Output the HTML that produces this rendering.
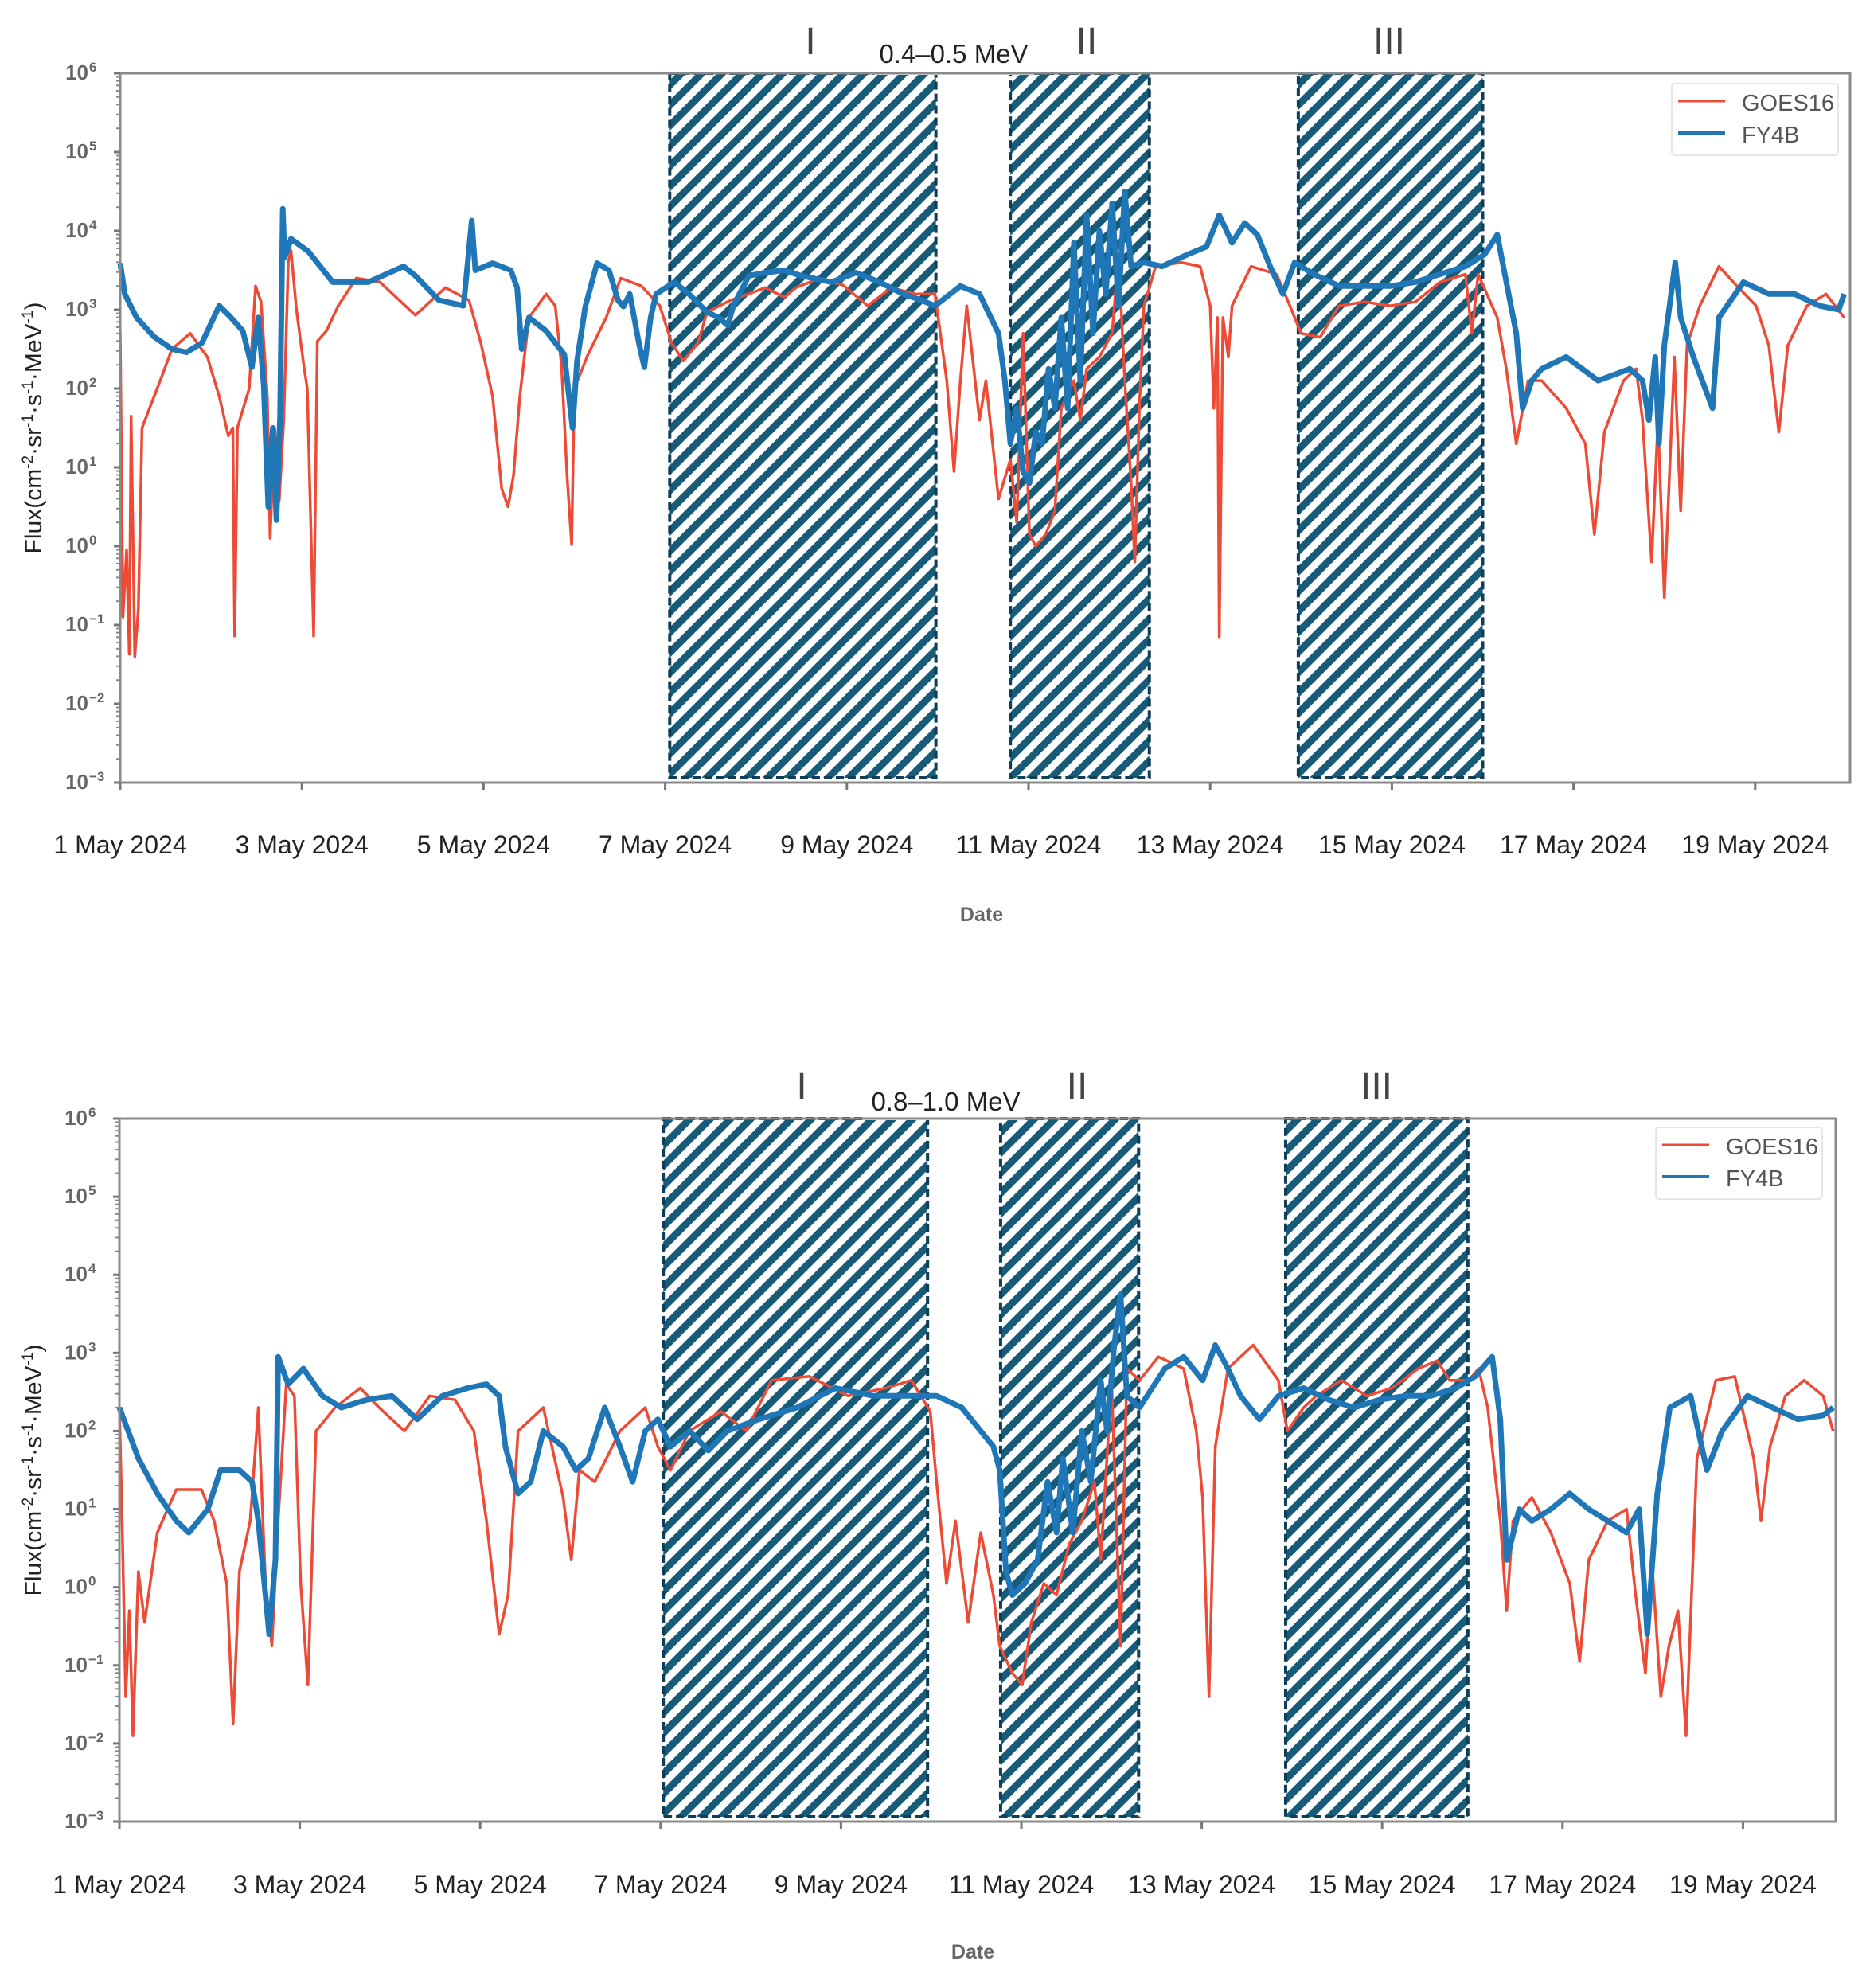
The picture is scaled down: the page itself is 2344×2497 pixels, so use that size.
<!DOCTYPE html>
<html><head><meta charset="utf-8"><style>
html,body{margin:0;padding:0;background:#fff;}
svg{display:block;font-family:"Liberation Sans",sans-serif;}
</style></head><body>
<svg id="chart" width="2344" height="2497" viewBox="0 0 2344 2497" xmlns="http://www.w3.org/2000/svg">
<defs>
<pattern id="hatch" patternUnits="userSpaceOnUse" width="18" height="18" patternTransform="rotate(45)">
<rect x="0" y="0" width="9" height="18" fill="#175b78"/>
</pattern>
</defs>
</svg>
<script>
// ---- data (days since 1 May 2024 00:00, log10 flux) ----
const xTickLabels = ["1 May 2024","3 May 2024","5 May 2024","7 May 2024","9 May 2024","11 May 2024","13 May 2024","15 May 2024","17 May 2024","19 May 2024"];
const xTickDays = [0,2,4,6,8,10,12,14,16,18];
const yTickExps = [6,5,4,3,2,1,0,-1,-2,-3];
const eventLabels = ["I","II","III"];
const topEventStart = [6.05, 9.8, 12.97];
const topEventEnd = [8.98, 11.33, 15.0];
const botEventStart = [6.03, 9.77, 12.93];
const botEventEnd = [8.96, 11.3, 14.95];

const topGoesDays = [0,0.03,0.07,0.1,0.12,0.16,0.2,0.24,0.44,0.57,0.77,0.96,1.09,1.19,1.24,1.26,1.29,1.42,1.49,1.55,1.62,1.65,1.7,1.75,1.8,1.85,1.88,1.94,2.02,2.06,2.13,2.17,2.27,2.4,2.6,2.86,3.25,3.58,3.84,3.97,4.1,4.2,4.27,4.33,4.4,4.5,4.69,4.79,4.86,4.92,4.97,5.0,5.15,5.35,5.51,5.74,5.94,6.07,6.2,6.36,6.46,6.72,6.92,7.1,7.31,7.44,7.7,7.96,8.23,8.49,8.75,8.97,9.1,9.18,9.25,9.32,9.46,9.53,9.67,9.8,9.87,9.94,10.01,10.08,10.19,10.29,10.36,10.5,10.57,10.64,10.78,10.92,10.99,11.06,11.13,11.17,11.22,11.27,11.4,11.68,11.89,12.0,12.04,12.08,12.1,12.14,12.2,12.24,12.45,12.73,12.86,13.0,13.21,13.42,13.7,13.98,14.26,14.53,14.81,14.88,14.95,15.16,15.26,15.37,15.5,15.65,15.92,16.13,16.23,16.34,16.55,16.69,16.76,16.86,16.93,17.0,17.11,17.18,17.25,17.39,17.6,17.8,18.01,18.15,18.26,18.36,18.57,18.78,18.98];
const topGoesLog = [2.73,-0.9,-0.05,-1.37,1.65,-1.4,-0.8,1.5,2.1,2.5,2.7,2.4,1.9,1.4,1.5,-1.14,1.5,2.0,3.3,3.1,1.9,0.1,1.5,0.57,1.6,3.6,3.75,3.0,2.3,2.0,-1.14,2.6,2.73,3.05,3.4,3.35,2.93,3.28,3.12,2.58,1.9,0.73,0.5,0.9,1.9,2.9,3.2,3.05,2.27,0.88,0.02,2.0,2.43,2.9,3.4,3.3,3.05,2.58,2.35,2.58,2.97,3.12,3.2,3.28,3.16,3.28,3.4,3.31,3.05,3.28,3.2,3.2,2.1,0.95,2.1,3.05,1.6,2.1,0.6,1.1,0.3,2.7,0.15,0,0.15,0.45,1.75,2.1,1.6,2.25,2.4,2.7,3.7,2.1,0.8,-0.2,1.75,3.05,3.55,3.6,3.55,3.05,1.75,2.9,-1.15,2.9,2.4,3.05,3.55,3.45,3.1,2.7,2.65,3.05,3.1,3.05,3.1,3.35,3.45,2.7,3.45,2.9,2.25,1.3,2.1,2.1,1.75,1.3,0.15,1.45,2.1,2.25,1.6,-0.2,1.6,-0.65,2.4,0.45,2.55,3.05,3.55,3.3,3.05,2.55,1.45,2.55,3.05,3.2,2.9];

const topFyDays = [0,0.05,0.18,0.37,0.57,0.73,0.9,1.09,1.22,1.35,1.45,1.52,1.58,1.63,1.68,1.72,1.76,1.79,1.81,1.88,2.07,2.34,2.73,3.12,3.25,3.51,3.78,3.87,3.91,4.1,4.3,4.37,4.42,4.5,4.69,4.89,4.95,4.98,5.03,5.12,5.25,5.38,5.48,5.54,5.61,5.71,5.77,5.84,5.9,6.1,6.26,6.46,6.59,6.69,6.75,6.92,7.1,7.31,7.5,7.83,8.1,8.36,8.62,8.82,8.97,9.25,9.46,9.67,9.74,9.8,9.87,9.94,10.01,10.08,10.15,10.22,10.29,10.36,10.43,10.5,10.57,10.64,10.71,10.78,10.85,10.92,10.99,11.06,11.13,11.27,11.47,11.75,11.96,12.1,12.24,12.38,12.52,12.66,12.8,12.93,13.14,13.42,13.7,13.98,14.26,14.53,14.81,15.02,15.16,15.26,15.37,15.44,15.54,15.65,15.92,16.27,16.62,16.76,16.83,16.9,16.94,17.0,17.12,17.18,17.32,17.53,17.6,17.87,18.15,18.43,18.71,18.92,18.98];
const topFyLog = [3.59,3.2,2.9,2.66,2.5,2.46,2.58,3.05,2.9,2.73,2.27,2.9,2.04,0.5,1.5,0.33,1.65,4.28,3.66,3.9,3.74,3.35,3.35,3.55,3.43,3.12,3.05,4.13,3.5,3.59,3.5,3.28,2.5,2.9,2.73,2.43,1.8,1.5,2.35,3.04,3.59,3.5,3.12,3.04,3.2,2.58,2.27,2.9,3.2,3.35,3.2,2.97,2.9,2.8,3.05,3.43,3.47,3.5,3.43,3.35,3.47,3.35,3.2,3.12,3.05,3.3,3.2,2.7,2.1,1.3,1.75,0.95,0.8,1.45,1.3,2.25,1.75,2.9,1.75,3.85,2.1,4.2,2.7,4.0,3.2,4.35,3.05,4.5,3.55,3.6,3.55,3.7,3.8,4.2,3.85,4.1,3.95,3.55,3.2,3.6,3.45,3.3,3.3,3.3,3.35,3.45,3.55,3.7,3.95,3.35,2.7,1.75,2.1,2.25,2.4,2.1,2.25,2.1,1.6,2.4,1.3,2.55,3.6,2.9,2.4,1.75,2.9,3.35,3.2,3.2,3.05,3.0,3.2];

const botGoesDays = [0,0.03,0.07,0.11,0.15,0.21,0.28,0.42,0.63,0.91,1.05,1.19,1.26,1.33,1.45,1.54,1.62,1.69,1.76,1.85,1.94,2.01,2.09,2.18,2.39,2.67,2.88,3.16,3.44,3.72,3.93,4.07,4.21,4.31,4.42,4.7,4.92,5.01,5.1,5.27,5.55,5.83,5.97,6.11,6.32,6.67,6.95,7.23,7.65,8.08,8.5,8.78,8.99,9.06,9.17,9.27,9.41,9.55,9.69,9.76,9.9,10.01,10.11,10.25,10.39,10.53,10.67,10.81,10.88,11.0,11.1,11.17,11.31,11.52,11.8,11.94,12.01,12.08,12.15,12.29,12.57,12.85,12.95,13.13,13.27,13.55,13.83,14.11,14.4,14.61,14.75,14.96,15.07,15.17,15.31,15.38,15.45,15.66,15.87,16.08,16.19,16.29,16.5,16.71,16.81,16.92,16.99,17.09,17.18,17.28,17.37,17.49,17.7,17.91,18.12,18.2,18.3,18.47,18.68,18.89,19.0];
const botGoesLog = [2.3,0.85,-1.4,-0.3,-1.9,0.2,-0.45,0.7,1.25,1.25,0.85,0.05,-1.75,0.2,0.85,2.3,0.05,-0.75,0.85,2.6,2.45,0.05,-1.25,2.0,2.3,2.55,2.3,2.0,2.45,2.4,2.0,0.85,-0.6,-0.1,2.0,2.3,1.15,0.35,1.5,1.35,2.0,2.3,1.8,1.5,2.0,2.25,2.0,2.65,2.7,2.45,2.55,2.65,2.25,1.35,0.05,0.85,-0.45,0.7,-0.1,-0.75,-1.1,-1.25,-0.45,0.05,-0.1,0.55,0.85,1.35,0.35,2.65,-0.75,2.8,2.65,2.95,2.8,2.0,1.15,-1.4,1.8,2.8,3.1,2.65,2.0,2.3,2.45,2.65,2.45,2.55,2.8,2.9,2.65,2.65,2.8,2.3,0.85,-0.3,0.85,1.15,0.7,0.05,-0.95,0.35,0.85,1.0,-0.1,-1.1,0.35,-1.4,-0.75,-0.3,-1.9,1.65,2.65,2.7,1.65,0.85,1.8,2.45,2.65,2.45,2.0];

const botFyDays = [0,0.21,0.42,0.63,0.77,0.98,1.12,1.33,1.47,1.54,1.62,1.66,1.73,1.76,1.87,2.04,2.25,2.46,2.74,3.02,3.3,3.58,3.86,4.07,4.21,4.28,4.42,4.56,4.7,4.92,5.06,5.2,5.38,5.55,5.69,5.83,5.97,6.11,6.32,6.53,6.74,7.09,7.51,7.94,8.36,8.78,9.06,9.34,9.55,9.69,9.76,9.83,9.9,10.04,10.18,10.29,10.39,10.46,10.57,10.67,10.77,10.88,10.95,11.03,11.1,11.17,11.31,11.59,11.8,12.01,12.15,12.29,12.43,12.64,12.85,13.13,13.41,13.69,13.97,14.26,14.54,14.82,15.03,15.22,15.31,15.38,15.52,15.66,15.87,16.08,16.29,16.5,16.71,16.85,16.94,17.05,17.19,17.42,17.6,17.77,18.05,18.33,18.61,18.89,19.0];
const botFyLog = [2.3,1.65,1.2,0.85,0.7,1.0,1.5,1.5,1.35,0.85,-0.1,-0.6,0.35,2.95,2.6,2.8,2.45,2.3,2.4,2.45,2.15,2.45,2.55,2.6,2.45,1.8,1.2,1.35,2.0,1.8,1.5,1.65,2.3,1.8,1.35,2.0,2.15,1.8,2.0,1.75,2.0,2.15,2.3,2.55,2.45,2.45,2.45,2.3,2.0,1.8,1.5,0.2,-0.1,0.05,0.35,1.35,0.7,1.65,0.7,2.0,1.35,2.65,2.0,3.1,3.75,2.45,2.3,2.8,2.95,2.65,3.1,2.8,2.45,2.15,2.45,2.55,2.4,2.3,2.4,2.45,2.45,2.55,2.7,2.95,2.15,0.35,1.0,0.85,1.0,1.2,1.0,0.85,0.7,1.0,-0.6,1.2,2.3,2.45,1.5,2.0,2.45,2.3,2.15,2.2,2.3];

const NS = "http://www.w3.org/2000/svg";
const svg = document.getElementById("chart");
function mk(tag, attrs, parent) {
  const e = document.createElementNS(NS, tag);
  for (const k in attrs) e.setAttribute(k, attrs[k]);
  (parent || svg).appendChild(e);
  return e;
}

function drawPanel(p) {
  const g = mk("g", {});
  
  
  const xS = d => p.left + d * p.perDay;
  const yS = l => p.top + (6 - l) * (p.bottom - p.top) / 9;

  const frame = mk("rect", {x:p.left, y:p.top, width:p.right-p.left, height:p.bottom-p.top, fill:"#fff", stroke:"#8a8a8a", "stroke-width":3}, g);
  
  

  for (let i = 0; i < p.evStart.length; i++) {
    const x0 = xS(p.evStart[i]), x1 = xS(p.evEnd[i]);
    const r = mk("rect", {x:x0, y:p.top, width:x1-x0, height:p.bottom-p.top-6, fill:"url(#hatch)", stroke:"#0f3f58", "stroke-width":4, "stroke-dasharray":"10 5"}, g);
    
    
    const t = mk("text", {x:(p.romanX[i]), y:p.romanY, "text-anchor":"middle", "font-size":48, fill:"#444", "font-family":"Liberation Sans, sans-serif"}, g);
    t.textContent = eventLabels[i];
    
    
  }

  mk("rect", {x:p.titleX-100, y:p.top-6, width:200, height:8, fill:"#fff"}, g);
  const tt = mk("text", {x:p.titleX, y:p.titleY, "text-anchor":"middle", "font-size":33, fill:"#222"}, g);
  tt.textContent = p.title;
  
  

  const series = [[p.gDays, p.gLog, "#ee4b36", 3.5, "goes16-line"], [p.fDays, p.fLog, "#1f77b8", 7, "fy4b-line"]];
  for (const s of series) {
    let d = "";
    for (let i = 0; i < s[0].length; i++) d += (i ? "L" : "M") + xS(s[0][i]).toFixed(1) + " " + yS(s[1][i]).toFixed(1);
    const path = mk("path", {d:d, fill:"none", stroke:s[2], "stroke-width":s[3], "stroke-linejoin":"round"}, g);
    
    
  }
  mk("rect", {x:p.left, y:p.top, width:p.right-p.left, height:p.bottom-p.top, fill:"none", stroke:"#8a8a8a", "stroke-width":3}, g);

  for (let i = 0; i < yTickExps.length; i++) {
    const e = yTickExps[i], y = yS(e);
    mk("line", {x1:p.left-8, x2:p.left, y1:y, y2:y, stroke:"#777", "stroke-width":3}, g);
    const lab = mk("text", {x:p.left-40, y:y+8, "text-anchor":"end", "font-size":26, fill:"#666", "font-weight":"bold"}, g);
    lab.textContent = "10";
    
    
    const sup = mk("text", {x:p.left-39, y:y-2, "text-anchor":"start", "font-size":17, fill:"#666", "font-weight":"bold"}, g);
    sup.textContent = e < 0 ? "\u2212" + (-e) : String(e);
    if (e > -3) for (let m = 2; m <= 9; m++) {
      const ym = yS(e - 1 + Math.log10(m));
      mk("line", {x1:p.left-5, x2:p.left, y1:ym, y2:ym, stroke:"#888", "stroke-width":2}, g);
    }
  }
  for (let i = 0; i < xTickDays.length; i++) {
    const x = xS(xTickDays[i]);
    mk("line", {x1:x, x2:x, y1:p.bottom, y2:p.bottom+9, stroke:"#777", "stroke-width":3}, g);
    const lab = mk("text", {x:x, y:p.tickY, "text-anchor":"middle", "font-size":32, fill:"#222"}, g);
    lab.textContent = xTickLabels[i];
    
    
  }
  const xt = mk("text", {x:p.dateX, y:p.dateY, "text-anchor":"middle", "font-size":25, fill:"#666", "font-weight":"bold"}, g);
  xt.textContent = "Date";
  
  
  const yc = (p.top + p.bottom) / 2;
  const yt = mk("text", {x:0, y:0, transform:"translate(52," + yc + ") rotate(-90)", "text-anchor":"middle", "font-size":30, fill:"#222"}, g);
  yt.innerHTML = 'Flux(cm<tspan dy="-11" font-size="19">-2</tspan><tspan dy="11">·sr</tspan><tspan dy="-11" font-size="19">-1</tspan><tspan dy="11">·s</tspan><tspan dy="-11" font-size="19">-1</tspan><tspan dy="11">·MeV</tspan><tspan dy="-11" font-size="19">-1</tspan><tspan dy="11">)</tspan>';
  
  

  const lg = mk("g", {}, g);
  
  
  mk("rect", {x:p.legX, y:p.legY, width:209, height:90, rx:4, fill:"#fff", stroke:"#e6e6e6", "stroke-width":2}, lg);
  mk("line", {x1:p.legX+8, x2:p.legX+67, y1:p.legY+22, y2:p.legY+22, stroke:"#ee4b36", "stroke-width":3}, lg);
  const l1 = mk("text", {x:p.legX+88, y:p.legY+34, "font-size":29, fill:"#555"}, lg);
  l1.textContent = "GOES16";
  
  
  mk("line", {x1:p.legX+8, x2:p.legX+67, y1:p.legY+62, y2:p.legY+62, stroke:"#1f77b8", "stroke-width":4}, lg);
  const l2 = mk("text", {x:p.legX+88, y:p.legY+74, "font-size":29, fill:"#555"}, lg);
  l2.textContent = "FY4B";
  
  
}

drawPanel({name:"panel-0-4-0-5-mev", left:151, right:2324, top:92, bottom:983, perDay:114.1,
  evStart:topEventStart, evEnd:topEventEnd, romanX:[1018,1365,1745], romanY:68,
  title:"0.4–0.5 MeV", titleX:1198, titleY:79,
  gDays:topGoesDays, gLog:topGoesLog, fDays:topFyDays, fLog:topFyLog,
  tickY:1072, dateX:1233, dateY:1157, legX:2100, legY:105});
drawPanel({name:"panel-0-8-1-0-mev", left:150, right:2306, top:1405, bottom:2288, perDay:113.3,
  evStart:botEventStart, evEnd:botEventEnd, romanX:[1007,1353,1729], romanY:1381,
  title:"0.8–1.0 MeV", titleX:1188, titleY:1395,
  gDays:botGoesDays, gLog:botGoesLog, fDays:botFyDays, fLog:botFyLog,
  tickY:2378, dateX:1222, dateY:2460, legX:2080, legY:1416});
</script>
</body></html>
